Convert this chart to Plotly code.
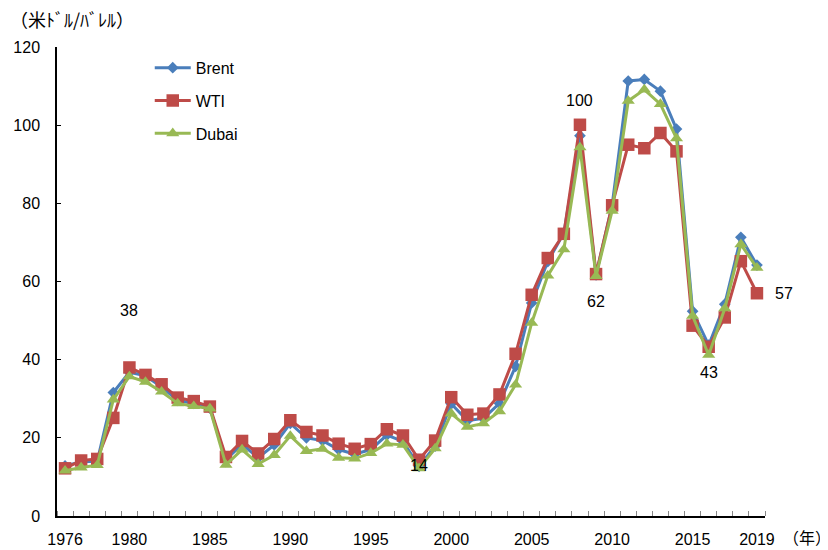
import plotly.graph_objects as go

years = list(range(1976, 2020))

brent = [12.8, 13.9, 14.0, 31.6, 36.8, 35.9, 33.0, 29.6, 28.8, 27.6,
         14.4, 18.4, 14.9, 18.2, 23.7, 20.0, 19.3, 17.0, 15.8, 17.0,
         20.7, 19.1, 12.7, 17.9, 28.7, 24.4, 25.0, 28.8, 38.3, 54.5,
         65.1, 72.4, 97.3, 61.7, 79.5, 111.3, 111.7, 108.7, 99.0, 52.4,
         43.7, 54.2, 71.3, 64.2]

wti = [12.2, 14.2, 14.6, 25.1, 38.0, 36.1, 33.7, 30.3, 29.4, 28.0,
       15.1, 19.2, 16.0, 19.7, 24.5, 21.5, 20.6, 18.5, 17.2, 18.4,
       22.2, 20.6, 14.4, 19.3, 30.4, 25.9, 26.2, 31.1, 41.5, 56.6,
       66.0, 72.2, 100.1, 61.9, 79.5, 95.0, 94.1, 98.0, 93.3, 48.7,
       43.3, 50.8, 65.2, 57.0]

dubai = [11.6, 12.4, 13.0, 29.8, 35.7, 34.3, 31.8, 28.8, 28.1, 27.5,
         13.1, 17.0, 13.3, 15.6, 20.5, 16.6, 17.2, 14.9, 14.7, 16.1,
         18.5, 18.2, 12.2, 17.3, 26.2, 22.8, 23.7, 26.8, 33.6, 49.4,
         61.5, 68.2, 94.3, 61.4, 78.1, 106.2, 109.1, 105.4, 96.6, 51.2,
         41.2, 53.1, 69.5, 63.5]

tick_years = [1976, 1980, 1985, 1990, 1995, 2000, 2005, 2010, 2015, 2019]

# (year, value label, y position of the label)
labels = [(1980, "38", 52.5), (2008, "100", 106.2), (2009, "62", 55.0),
          (1998, "14", 12.8), (2016, "43", 36.6)]

FONT = "Liberation Sans, Arial, Noto Sans CJK JP"

series = [
    ("Brent", brent, "#4A7EBB", "diamond", 9),
    ("WTI", wti, "#BE4B48", "square", 12.5),
    ("Dubai", dubai, "#98B954", "triangle-up", 11.5),
]

fig = go.Figure()
for name, vals, color, symbol, size in series:
    fig.add_trace(go.Scatter(
        x=years, y=vals, name=name, mode="lines+markers",
        legendgroup=name,
        line=dict(color=color, width=3),
        marker=dict(symbol=symbol, size=size, color=color),
    ))

for yr, txt, ypos in labels:
    fig.add_annotation(x=yr, y=ypos, text=txt, showarrow=False,
                       font=dict(size=16, color="black"))

fig.add_annotation(x=2019, y=wti[-1], text="57", showarrow=False,
                   xanchor="left", xshift=16, font=dict(size=16, color="black"))

# page has an 8px body margin, so margins below are 8px smaller
fig.add_annotation(xref="paper", yref="paper", x=-0.069, y=1.06,
                   xanchor="left", yanchor="middle",
                   text="（米ﾄﾞﾙ/ﾊﾞﾚﾙ）", showarrow=False,
                   font=dict(size=18, color="black", family="Noto Sans CJK JP"))
fig.add_annotation(xref="paper", yref="paper", x=1.023, y=-0.045,
                   xanchor="left", yanchor="middle",
                   text="（年）", showarrow=False,
                   font=dict(size=16, color="black", family="Noto Sans CJK JP"))

fig.update_layout(
    width=828, height=550,
    margin=dict(l=49, r=71, t=39, b=42),
    paper_bgcolor="white", plot_bgcolor="white",
    font=dict(family=FONT, size=16, color="black"),
    showlegend=True,
    legend=dict(x=0.131, y=0.992, xanchor="left", yanchor="top",
                bgcolor="rgba(0,0,0,0)", tracegroupgap=9,
                font=dict(size=16), itemwidth=36),
)

fig.update_xaxes(
    range=[1975.5, 2019.5], tickmode="array", tickvals=tick_years,
    ticks="", showgrid=False, zeroline=False, automargin=False,
    showline=True, linecolor="black", linewidth=1.5,
    ticklabelstandoff=8,
    minor=dict(tick0=1975.5, dtick=1, ticks="inside", ticklen=5,
               tickcolor="#888888", showgrid=False),
)
fig.update_yaxes(
    range=[0, 120], dtick=20, ticks="inside", ticklen=4, tickcolor="black",
    showgrid=False, zeroline=False, automargin=False,
    showline=True, linecolor="black", linewidth=1.5,
    ticklabelstandoff=12,
)

fig.write_html("out.html")
